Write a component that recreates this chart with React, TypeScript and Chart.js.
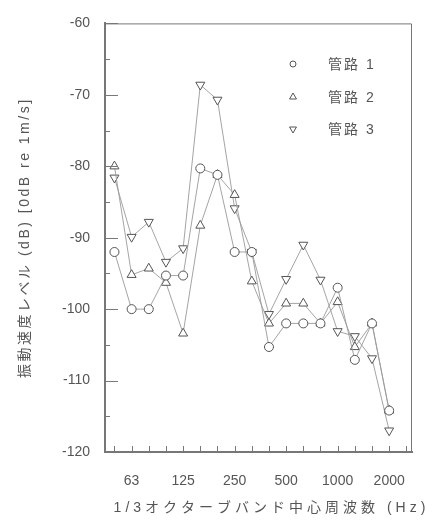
import React, { useEffect, useRef } from 'react';
import { Chart, registerables } from 'chart.js';

Chart.register(...registerables);

// 1/3 octave band centre frequencies (tick positions); data exists for the first 17
const tickBands = ['50', '63', '80', '100', '125', '160', '200', '250', '315', '400', '500', '630', '800', '1000', '1250', '1600', '2000', '2500'];
const shownLabels = ['63', '125', '250', '500', '1000', '2000'];

const seriesNames = ['管路 1', '管路 2', '管路 3'];

const pipe1 = [-92, -100, -100, -95.3, -95.3, -80.3, -81.2, -92, -92, -105.3, -102, -102, -102, -97, -107.1, -102, -114.2];
const pipe2 = [-80, -95.2, -94.3, -96.3, -103.4, -88.3, -81.2, -84, -96.1, -102, -99.2, -99.2, -102, -99, -105.3, -102, -114.2];
const pipe3 = [-81.6, -89.9, -87.8, -93.4, -91.5, -68.6, -70.7, -85.9, -92, -100.7, -95.8, -91, -95.9, -103.1, -103.8, -106.9, -117];

const yMin = -120;
const yMax = -60;
const yTitle = '振動速度レベル (dB) [0dB re 1m/s]';
const xTitle = '1/3オクターブバンド中心周波数 (Hz)';

const FONT = "'Liberation Sans', Arial, 'Noto Sans CJK JP', sans-serif";
const TEXT = '#555';
const AXIS = '#777';
const LINE = '#9a9a9a';
const MARK = '#555';

function drawMarker(ctx: CanvasRenderingContext2D, kind: string, x: number, y: number, r: number) {
  ctx.beginPath();
  if (kind === 'circle') {
    ctx.arc(x, y, r, 0, Math.PI * 2);
  } else {
    const dir = kind === 'up' ? -1 : 1;
    const s = r * Math.sqrt(3) / 2;
    ctx.moveTo(x, y + dir * r);
    ctx.lineTo(x + s, y - dir * r / 2);
    ctx.lineTo(x - s, y - dir * r / 2);
    ctx.closePath();
  }
  ctx.fillStyle = '#fff';
  ctx.fill();
  ctx.stroke();
}

const decor = {
  id: 'decor',
  afterDraw(chart: any) {
    const { ctx, chartArea, scales } = chart;
    const { left, right, top, bottom } = chartArea;
    const x = scales.x;
    const y = scales.y;
    ctx.save();
    ctx.strokeStyle = AXIS;
    ctx.lineWidth = 1;
    // top & right frame
    ctx.beginPath();
    ctx.moveTo(left, top + 0.5);
    ctx.lineTo(right - 0.5, top + 0.5);
    ctx.lineTo(right - 0.5, bottom);
    ctx.stroke();
    // inward y ticks
    for (let v = yMin; v <= yMax; v += 5) {
      const py = Math.round(y.getPixelForValue(v)) + 0.5;
      const len = v % 10 === 0 ? 13 : 5;
      ctx.beginPath();
      ctx.moveTo(left, py);
      ctx.lineTo(left + len, py);
      ctx.stroke();
    }
    // inward x ticks
    for (let i = 0; i < tickBands.length; i++) {
      const px = Math.round(x.getPixelForValue(i)) + 0.5;
      ctx.beginPath();
      ctx.moveTo(px, bottom);
      ctx.lineTo(px, bottom - 6);
      ctx.stroke();
    }
    // axis titles
    ctx.fillStyle = TEXT;
    ctx.font = `14px ${FONT}`;
    ctx.textAlign = 'center';
    ctx.textBaseline = 'middle';
    (ctx as any).letterSpacing = '4px';
    ctx.fillText(xTitle, (left + right) / 2 + 13, 508);
    ctx.save();
    (ctx as any).letterSpacing = '2.5px';
    ctx.translate(25, (top + bottom) / 2);
    ctx.rotate(-Math.PI / 2);
    ctx.fillText(yTitle, 0, 0);
    ctx.restore();
    // legend
    const kinds = ['circle', 'up', 'down'];
    const rows = [64, 97, 129];
    ctx.strokeStyle = MARK;
    ctx.lineWidth = 1;
    ctx.textAlign = 'left';
    (ctx as any).letterSpacing = '2px';
    seriesNames.forEach((name, i) => {
      drawMarker(ctx, kinds[i], 293, rows[i], i === 0 ? 3 : 4);
      ctx.fillStyle = TEXT;
      ctx.fillText(name, 328, rows[i] + 1);
    });
    ctx.restore();
  },
};

export default function App() {
  const ref = useRef<HTMLCanvasElement>(null);
  useEffect(() => {
    if (!ref.current) return;
    const mk = (vals: number[]) => vals.map((v, i) => ({ x: i, y: v }));
    const common = {
      borderColor: LINE,
      borderWidth: 0.9,
      pointBorderColor: MARK,
      pointBackgroundColor: '#fff',
      pointBorderWidth: 1,
      fill: false,
      tension: 0,
    };
    const chart = new Chart(ref.current, {
      type: 'line',
      data: {
        datasets: [
          { label: seriesNames[0], data: mk(pipe1), pointStyle: 'circle', pointRadius: 4.5, ...common },
          { label: seriesNames[1], data: mk(pipe2), pointStyle: 'triangle', pointRadius: 5.2, ...common },
          { label: seriesNames[2], data: mk(pipe3), pointStyle: 'triangle', pointRotation: 180, pointRadius: 5.2, ...common },
        ],
      },
      options: {
        animation: false,
        responsive: true,
        maintainAspectRatio: false,
        layout: { padding: { top: 16, right: 2, left: 0, bottom: 0 } },
        plugins: { legend: { display: false }, tooltip: { enabled: false } },
        scales: {
          x: {
            type: 'linear',
            min: -0.55,
            max: 17.33,
            grid: { display: true, drawOnChartArea: false, drawTicks: false },
            border: { display: true, color: AXIS, width: 2 },
            ticks: {
              stepSize: 1,
              autoSkip: false,
              maxRotation: 0,
              padding: 21,
              color: TEXT,
              font: { family: FONT, size: 14 },
              callback: (v: any) => {
                const lab = Number.isInteger(v) ? tickBands[v] : undefined;
                return lab && shownLabels.includes(lab) ? lab : '';
              },
            },
            afterFit: (s: any) => { s.height = 70; },
          },
          y: {
            min: yMin,
            max: yMax,
            grid: { display: true, drawOnChartArea: false, drawTicks: false },
            border: { display: true, color: AXIS, width: 2 },
            ticks: {
              stepSize: 5,
              autoSkip: false,
              padding: 15,
              color: TEXT,
              font: { family: FONT, size: 14 },
              callback: (v: any) => (v % 10 === 0 ? String(v) : ''),
            },
            afterFit: (s: any) => { s.width = 105; },
          },
        },
      },
      plugins: [decor],
    });
    return () => chart.destroy();
  }, []);
  return (
    <div style={{ position: 'fixed', left: 0, top: 0, width: 433, height: 522, background: '#fff' }}>
      <canvas ref={ref} />
    </div>
  );
}
